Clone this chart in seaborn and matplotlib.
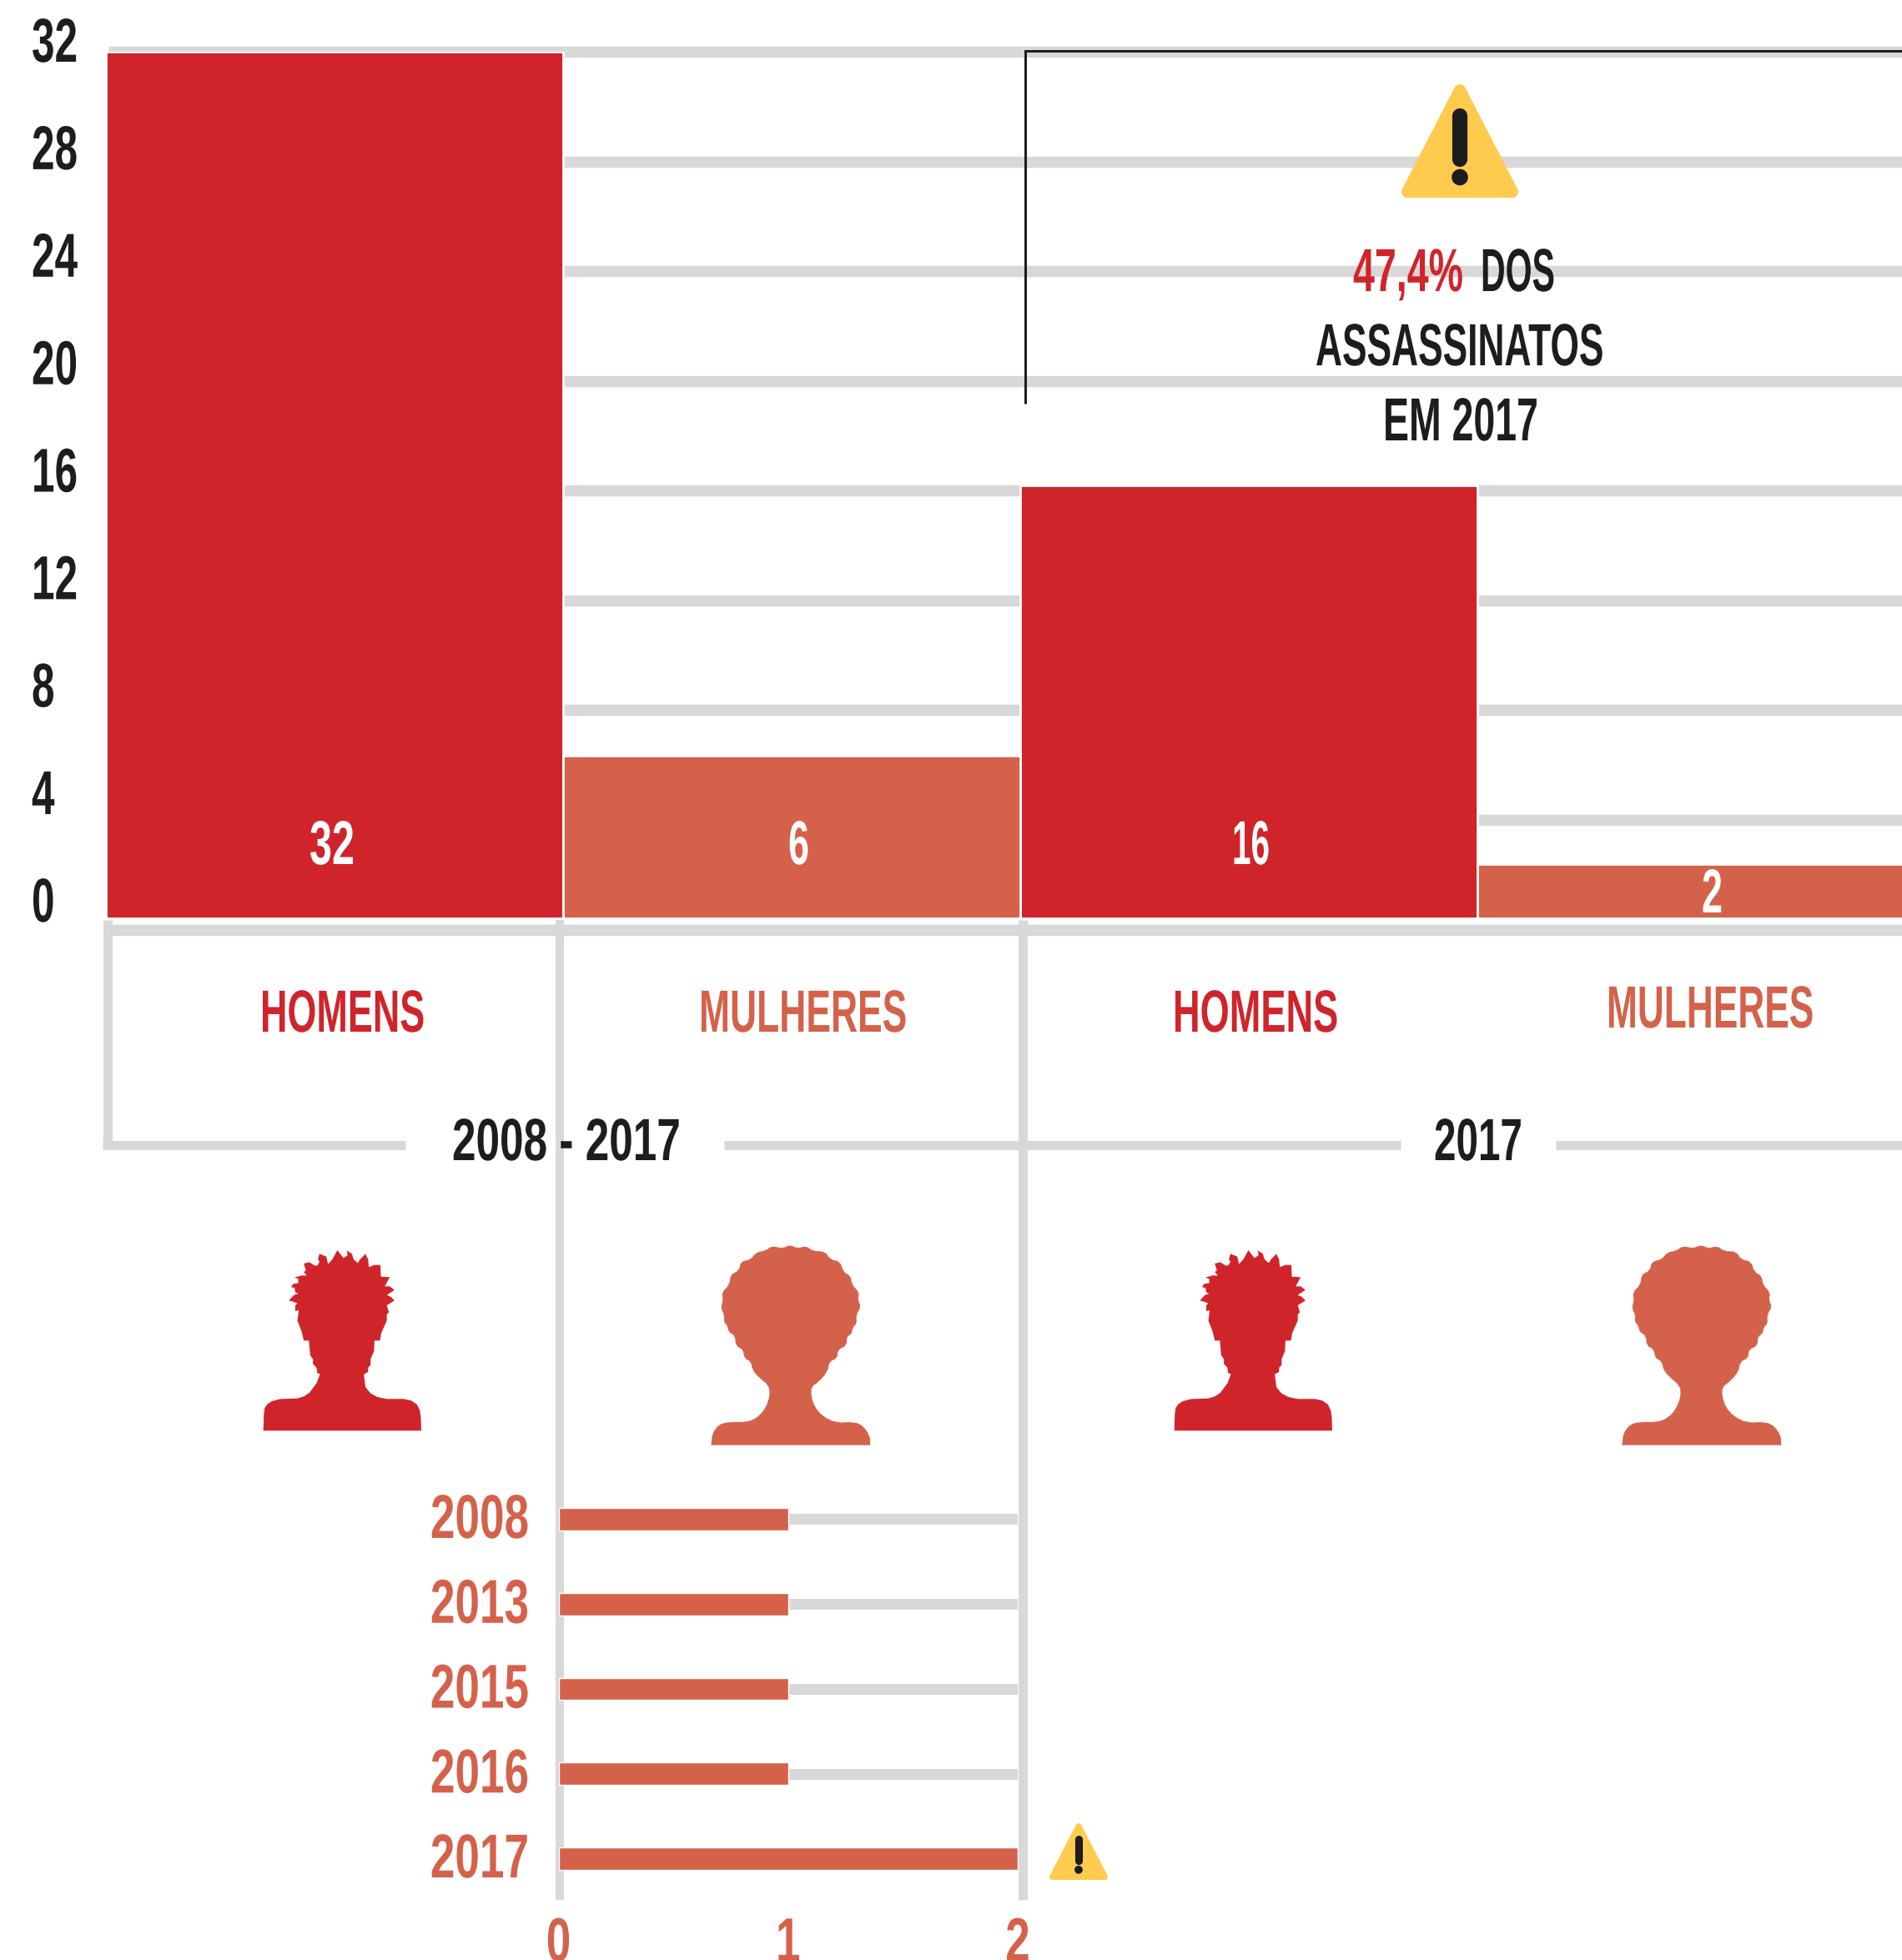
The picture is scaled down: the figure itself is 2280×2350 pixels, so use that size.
import numpy as np
import pandas as pd
import seaborn as sns
import matplotlib
matplotlib.use("Agg")
import matplotlib.pyplot as plt
from matplotlib.patches import Polygon, Circle
from matplotlib.patheffects import AbstractPathEffect
from matplotlib.transforms import Affine2D

# data
groups = ["HOMENS 2008-2017", "MULHERES 2008-2017", "HOMENS 2017", "MULHERES 2017"]
sexes = ["HOMENS", "MULHERES", "HOMENS", "MULHERES"]
deaths = [32, 6, 16, 2]
y_ticks = [0, 4, 8, 12, 16, 20, 24, 28, 32]
years = ["2008", "2013", "2015", "2016", "2017"]
women_per_year = [1, 1, 1, 1, 2]
x_ticks = [0, 1, 2]

W, H = 2280, 2350
RED = "#d0242b"
CORAL = "#d4624b"
GREY = "#d8d8d8"
DARK = "#1e1c1c"
YELLOW = "#fecb4f"
PT = 0.72  # 1 px in points at dpi 100

sns.set_theme(style="white")
plt.rcParams["font.family"] = ["Liberation Sans Narrow", "Liberation Sans", "DejaVu Sans"]
plt.rcParams["font.weight"] = "bold"
plt.rcParams["lines.solid_capstyle"] = "butt"

fig = plt.figure(figsize=(W / 100, H / 100), dpi=100, facecolor="white")


def px_axes(x0, y0, x1, y1, **kw):
    return fig.add_axes([x0 / W, 1 - y1 / H, (x1 - x0) / W, (y1 - y0) / H], **kw)


# squeeze a text sideways, the font is not narrow enough
class Squeeze(AbstractPathEffect):
    def __init__(self, sx, pivot):
        super().__init__()
        self.sx = sx
        self.pivot = pivot

    def draw_path(self, renderer, gc, tpath, affine, rgbFace=None):
        squeeze = Affine2D().translate(-self.pivot, 0).scale(self.sx, 1).translate(self.pivot, 0)
        renderer.draw_path(gc, tpath, affine + squeeze, rgbFace)


def font_px(height):
    return height / 0.70 * PT


def text_width(s, size):
    t = fig.text(0, 0, s, fontsize=size)
    w = t.get_window_extent(fig.canvas.get_renderer()).width
    t.remove()
    return w


DIGIT_SIZE = font_px(52)
TOP_SX = 55 / text_width("00", DIGIT_SIZE)
LOW_SX = 59 / text_width("00", DIGIT_SIZE)


# grid, own scale
ax_grid = px_axes(130, 62, 2280, 1114.5)
ax_grid.set_ylim(0, 32)
ax_grid.set_yticks(y_ticks)
ax_grid.set_xticks([])
ax_grid.tick_params(length=0, labelleft=False)
ax_grid.grid(axis="y", color=GREY, lw=13.5 * PT)
sns.despine(ax=ax_grid, left=True, bottom=True)
for line in ax_grid.get_ygridlines():
    line.set_clip_on(False)

# tick labels of the main chart
ax_lab = px_axes(130, 47, 2280, 1078)
ax_lab.patch.set_alpha(0)
ax_lab.set_ylim(0, 32)
ax_lab.set_yticks(y_ticks)
ax_lab.set_xticks([])
ax_lab.tick_params(length=0, pad=(130 - 38) * PT)
sns.despine(ax=ax_lab, left=True, bottom=True)
for t in ax_lab.get_yticklabels():
    t.set(ha="left", fontsize=DIGIT_SIZE, color=DARK, fontweight="bold")
    t.set_path_effects([Squeeze(TOP_SX, 38)])

# main bars
ax_bar = px_axes(126.5, 62, 2318.5, 1101)
ax_bar.patch.set_alpha(0)
df = pd.DataFrame({"grupo": groups, "sexo": sexes, "mortes": deaths})
sns.barplot(data=df, x="grupo", y="mortes", hue="sexo", palette={"HOMENS": RED, "MULHERES": CORAL},
            dodge=False, width=1, saturation=1, legend=False, edgecolor="white", linewidth=2, ax=ax_bar)
ax_bar.set_ylim(0, 32)
ax_bar.set_xlim(-0.5, 3.5)
ax_bar.axis("off")

# overlay in pixels for frame, texts and icons
over = px_axes(0, 0, W, H)
over.set_xlim(0, W)
over.set_ylim(H, 0)
over.axis("off")
over.patch.set_alpha(0)


def fit_text(x0, x1, base, height, s, color, ha="center"):
    size = font_px(height)
    sx = (x1 - x0) / text_width(s, size)
    cx = {"center": (x0 + x1) / 2, "left": x0, "right": x1}[ha]
    t = over.text(cx, base, s, ha=ha, va="baseline", fontsize=size, color=color, fontweight="bold")
    t.set_path_effects([Squeeze(sx, cx)])
    return t


# frame under the bars
for x, y1, lw in [(128.5, 1378, 11), (671, 2278, 10), (1225.5, 2278, 11)]:
    over.plot([x, x], [1103, y1], color=GREY, lw=lw * PT)
for x0, x1 in [(123, 486), (868, 1679), (1865, 2280)]:
    over.plot([x0, x1], [1372.5, 1372.5], color=GREY, lw=11 * PT)

# black bracket
over.plot([1229, 1229, 2280], [484, 61, 61], color=DARK, lw=3 * PT, solid_joinstyle="miter")


def warning(cx, top, w, h):
    r = w * 0.05
    over.add_patch(Polygon([(cx, top + r), (cx - w / 2 + r, top + h - r), (cx + w / 2 - r, top + h - r)],
                           closed=True, fc=YELLOW, ec=YELLOW, lw=2 * r * PT, joinstyle="round"))
    bw = w * 0.13
    over.plot([cx, cx], [top + h * 0.28, top + h * 0.66], color=DARK, lw=bw * PT, solid_capstyle="round")
    over.add_patch(Circle((cx, top + h * 0.82), w * 0.07, fc=DARK, ec="none"))


warning(1750, 101, 140, 136)
warning(1293, 2186, 70, 68)

# callout
fit_text(1622, 1754, 349, 51, "47,4%", RED, ha="right")
fit_text(1775, 1864, 349, 51, "DOS", DARK, ha="left")
fit_text(1577, 1922, 438, 50, "ASSASSINATOS", DARK)
fit_text(1658, 1844, 528, 51, "EM 2017", DARK)

# bar values
fit_text(371, 425, 1036, 52, str(deaths[0]), "white")
fit_text(945, 970, 1036, 52, str(deaths[1]), "white")
fit_text(1477, 1522, 1036, 52, str(deaths[2]), "white")
fit_text(2040, 2065, 1094, 52, str(deaths[3]), "white")

# group labels
fit_text(312, 509, 1237, 50, "HOMENS", RED)
fit_text(838, 1087, 1237, 50, "MULHERES", CORAL)
fit_text(1406, 1604, 1237, 50, "HOMENS", RED)
fit_text(1926, 2174, 1232, 50, "MULHERES", CORAL)
fit_text(542, 816, 1391, 50, "2008 - 2017", DARK)
fit_text(1719, 1825, 1391, 50, "2017", DARK)


# round off a traced outline, first and last point stay
def smooth(pts, rounds=1):
    pts = np.array(pts, dtype=float)
    for _ in range(rounds):
        a, b = pts[:-1], pts[1:]
        cut = np.empty((2 * len(a), 2))
        cut[0::2] = 0.75 * a + 0.25 * b
        cut[1::2] = 0.25 * a + 0.75 * b
        pts = np.vstack([pts[:1], cut, pts[-1:]])
    return pts


# silhouettes, traced
man = [(70, 736), (71, 680), (73, 655), (79, 641), (90, 630), (110, 622), (150, 620), (165, 613), (178, 600),
       (195, 565), (203, 533), (196, 527),
       (195, 510), (186, 495), (187, 480), (180, 465), (177, 412), (165, 412), (160, 380), (150, 340), (153, 303),
       (145, 306), (145, 285), (150, 278), (140, 272), (130, 268), (142, 248), (152, 243), (145, 238), (143, 222),
       (135, 220), (140, 208), (152, 205), (152, 190), (143, 185), (160, 178), (172, 178), (165, 165), (170, 160),
       (165, 135), (178, 130), (190, 142), (197, 142), (202, 128), (198, 120), (202, 100), (218, 110), (222, 137),
       (232, 120), (244, 87), (258, 115), (268, 105), (266, 88), (278, 100), (282, 120), (292, 133), (297, 120),
       (310, 100), (316, 120), (318, 148), (330, 140), (345, 140), (346, 182), (367, 184), (355, 217), (367, 217),
       (378, 230), (360, 248), (370, 255), (378, 268), (360, 285), (365, 310), (360, 318), (360, 340), (347, 385),
       (344, 412), (331, 412), (330, 450), (322, 478), (322, 500), (316, 510), (316, 525), (306, 533), (310, 580),
       (322, 602), (338, 615), (360, 622), (400, 622), (418, 628), (431, 642), (438, 665), (440, 690), (441, 736)]
woman = [(1122, 788), (1125, 745), (1140, 715), (1160, 705), (1205, 705), (1230, 690), (1250, 655), (1260, 610),
         (1258, 575), (1235, 545), (1220, 520), (1215, 487), (1200, 475), (1197, 445), (1180, 430), (1178, 395),
         (1163, 380), (1160, 358), (1152, 345), (1153, 320), (1145, 295), (1150, 265), (1147, 240), (1165, 210),
         (1168, 175), (1187, 160), (1192, 128), (1215, 120), (1228, 95), (1250, 88), (1265, 72), (1290, 80),
         (1307, 68), (1325, 80), (1345, 72), (1362, 90), (1390, 92), (1402, 120), (1425, 128), (1433, 165),
         (1450, 180), (1453, 210), (1470, 240), (1467, 265), (1474, 290), (1463, 320), (1464, 350), (1455, 365),
         (1452, 388), (1441, 398), (1440, 430), (1420, 445), (1418, 475), (1400, 488), (1395, 525), (1375, 560),
         (1358, 578), (1357, 610), (1365, 650), (1385, 685), (1415, 707), (1460, 705), (1480, 720), (1495, 755),
         (1496, 788)]
for pts, color in [(np.array(man, dtype=float), RED), (smooth(woman), CORAL)]:
    xy = np.column_stack([280 + pts[:, 0] / 1.96, 1470 + pts[:, 1] / 3])
    for dx in (0, 1092):
        over.add_patch(Polygon(xy + [dx, 0], closed=True, fc=color, ec="none"))

# yearly bars for women
ax_h = px_axes(669.5, 1770.6, 1220, 2279.4)
ax_h.patch.set_alpha(0)
sns.barplot(x=women_per_year, y=years, color=CORAL, width=0.265, saturation=1, orient="h", ax=ax_h)
ax_h.set_xlim(0, 2)
ax_h.set_ylim(4.5, -0.5)
ax_h.set_xticks(x_ticks)
ax_h.set_xlabel("")
ax_h.set_ylabel("")
ax_h.set_axisbelow(True)
ax_h.grid(axis="y", color=GREY, lw=13 * PT)
ax_h.tick_params(length=0, axis="y", pad=35.5 * PT)
ax_h.tick_params(length=0, axis="x", pad=18 * PT)
sns.despine(ax=ax_h, left=True, bottom=True)
for t in ax_h.get_yticklabels():
    t.set(fontsize=DIGIT_SIZE, color=CORAL, fontweight="bold", va="center")
    t.set_transform(t.get_transform() + Affine2D().translate(0, -3))
    t.set_path_effects([Squeeze(LOW_SX, 634)])
for v, t in zip(x_ticks, ax_h.get_xticklabels()):
    t.set(fontsize=DIGIT_SIZE, color=CORAL, fontweight="bold")
    t.set_path_effects([Squeeze(LOW_SX, ax_h.transData.transform((v, 0))[0])])

over.set_zorder(3)
ax_h.set_zorder(4)
ax_bar.set_zorder(2)

fig.savefig("out.png", dpi=100, facecolor="white")
